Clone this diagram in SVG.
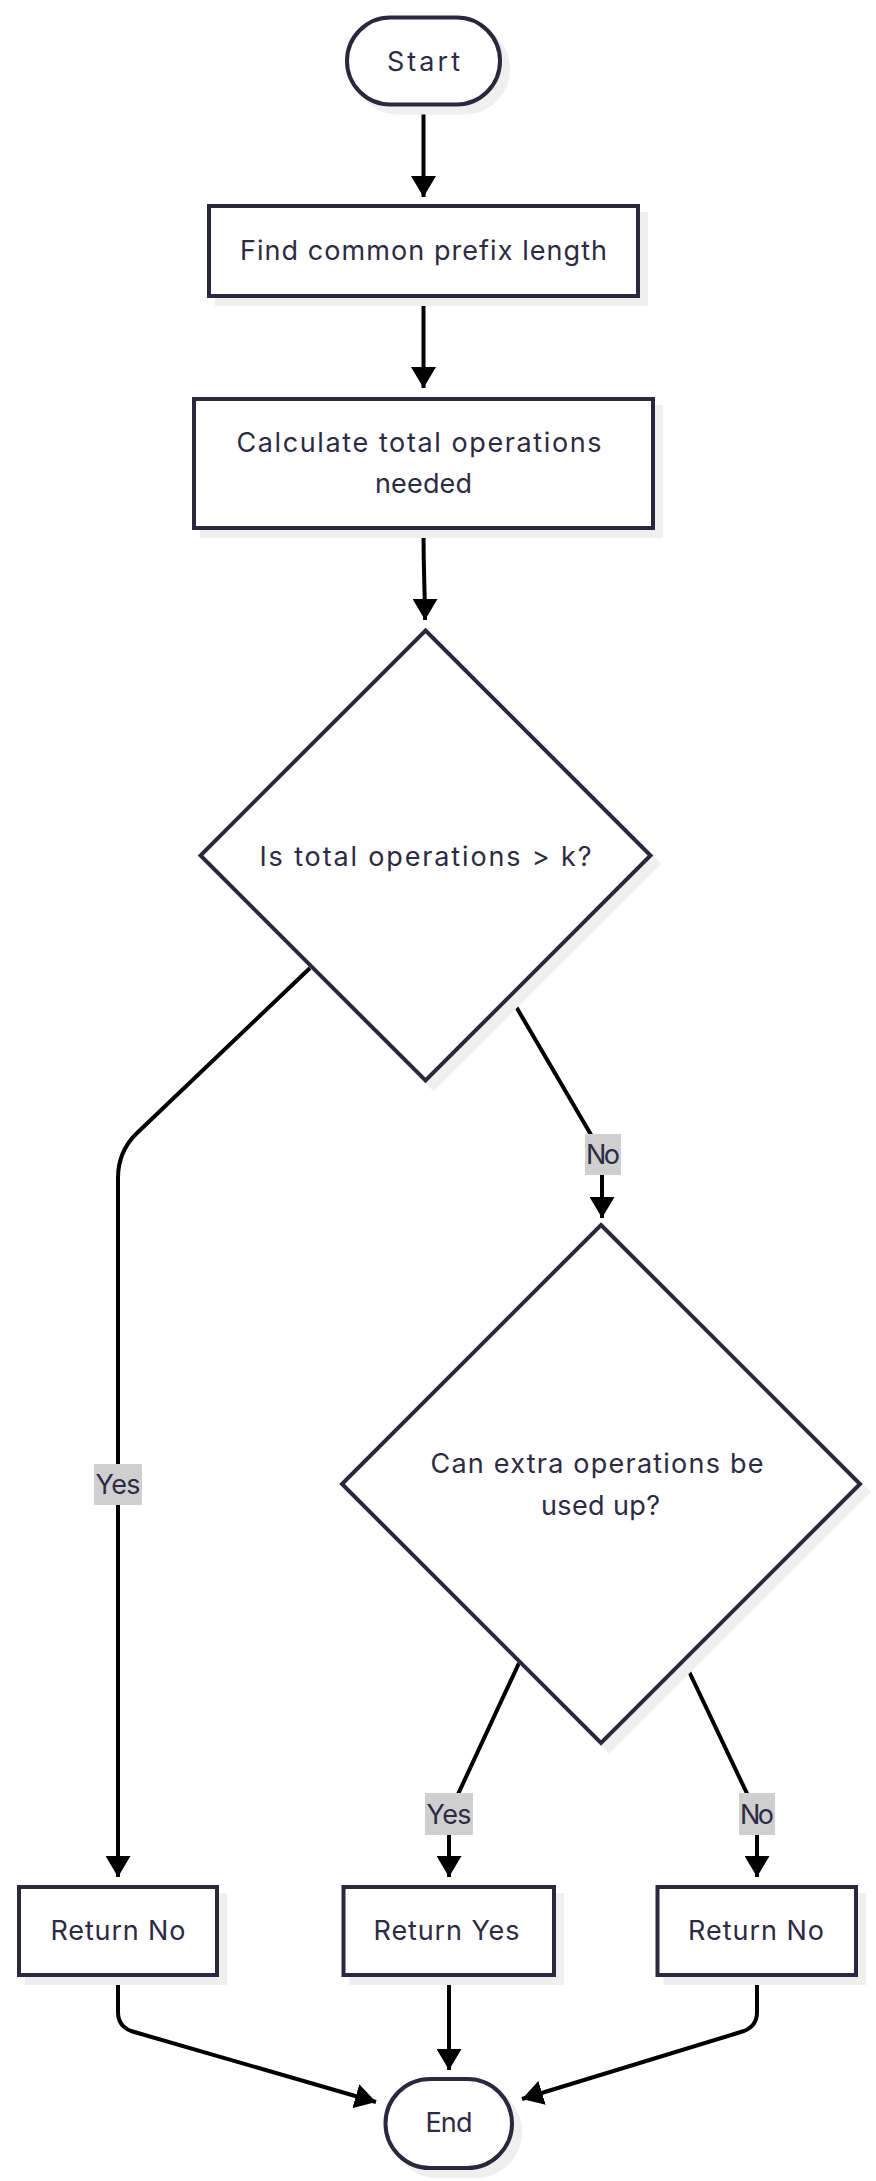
<svg xmlns="http://www.w3.org/2000/svg" width="876" height="2181" viewBox="0 0 876 2181">
<style>
.node{fill:#ffffff;stroke:#29283d;stroke-width:4}
.shadow{fill:#efefef;stroke:#efefef;stroke-width:4}
.t{font-family:Inter,"Open Sans","Liberation Sans",sans-serif;font-size:27px;font-weight:400;fill:#2d2b44;text-anchor:middle}
.edge{fill:none;stroke:#000000;stroke-width:4}
.lbl{fill:#cfcfcf}
</style>
<defs>
<marker id="arrow" markerUnits="userSpaceOnUse" markerWidth="21" markerHeight="25" viewBox="0 0 21 25" refX="21" refY="12.5" orient="auto">
<path d="M0,0 L21,12.5 L0,25 Z" fill="#000000"/>
</marker>
</defs>
<rect width="876" height="2181" fill="#ffffff"/>

<g id="edges">
<path class="edge" d="M423.5,105 L423.5,197" marker-end="url(#arrow)"/>
<path class="edge" d="M423.5,297 L423.5,388" marker-end="url(#arrow)"/>
<path class="edge" d="M423.5,530 C423.5,580 425,590 425,620" marker-end="url(#arrow)"/>
<path class="edge" d="M310,968 L136,1134 Q118,1152 118,1178 L118,1877" marker-end="url(#arrow)"/>
<path class="edge" d="M511,998 L597,1145 Q602,1154 602,1165 L602,1218" marker-end="url(#arrow)"/>
<path class="edge" d="M519,1663 L453,1805 Q449,1814 449,1824 L449,1877" marker-end="url(#arrow)"/>
<path class="edge" d="M685,1663 L752,1804 Q757,1814 757,1824 L757,1877" marker-end="url(#arrow)"/>
<path class="edge" d="M118,1977 L118,2012 Q118,2026 131,2031 L376,2102" marker-end="url(#arrow)"/>
<path class="edge" d="M449,1977 L449,2070" marker-end="url(#arrow)"/>
<path class="edge" d="M757,1977 L757,2012 Q757,2026 744,2031 L522,2099" marker-end="url(#arrow)"/>
<g id="edge-labels">
<rect class="lbl" x="585" y="1134" width="36" height="41"/>
<text class="t" x="603" y="1164" textLength="34">No</text>
<rect class="lbl" x="94" y="1464" width="48" height="41"/>
<text class="t" x="118" y="1494" textLength="45">Yes</text>
<rect class="lbl" x="425" y="1793" width="48" height="42"/>
<text class="t" x="449" y="1823.5" textLength="45">Yes</text>
<rect class="lbl" x="739" y="1793" width="36" height="42"/>
<text class="t" x="757" y="1823.5" textLength="34">No</text>
</g>
</g>

<g id="start">
<rect class="shadow" x="355" y="25.5" width="153" height="87" rx="43.5"/>
<rect class="node" x="347" y="17.5" width="153" height="87" rx="43.5"/>
<text class="t" x="423.5" y="70.5" textLength="73">Start</text>
</g>

<g id="find-prefix">
<rect class="shadow" x="217" y="214" width="429" height="90"/>
<rect class="node" x="209" y="206" width="429" height="90"/>
<text class="t" x="423.5" y="259.5" textLength="367">Find common prefix length</text>
</g>

<g id="calc-ops">
<rect class="shadow" x="202" y="407" width="459" height="129"/>
<rect class="node" x="194" y="399" width="459" height="129"/>
<text class="t" x="419" y="451.5" textLength="365">Calculate total operations</text>
<text class="t" x="423.5" y="493" textLength="97">needed</text>
</g>

<g id="decision1">
<polygon class="shadow" points="433.5,638.5 658.5,863.5 433.5,1088.5 208.5,863.5"/>
<polygon class="node" points="425.5,630.5 650.5,855.5 425.5,1080.5 200.5,855.5"/>
<text class="t" x="425.5" y="865.5" textLength="332">Is total operations &gt; k?</text>
</g>

<g id="decision2">
<polygon class="shadow" points="609,1233 868,1492 609,1751 350,1492"/>
<polygon class="node" points="601,1225 860,1484 601,1743 342,1484"/>
<text class="t" x="597" y="1473" textLength="333">Can extra operations be</text>
<text class="t" x="600.5" y="1514.5" textLength="119">used up?</text>
</g>

<g id="return-no-1">
<rect class="shadow" x="27" y="1895" width="198" height="88"/>
<rect class="node" x="19" y="1887" width="198" height="88"/>
<text class="t" x="118" y="1939.5" textLength="135">Return No</text>
</g>

<g id="return-yes">
<rect class="shadow" x="351.5" y="1895" width="210.5" height="88"/>
<rect class="node" x="343.5" y="1887" width="210.5" height="88"/>
<text class="t" x="446.5" y="1939.5" textLength="146">Return Yes</text>
</g>

<g id="return-no-2">
<rect class="shadow" x="665.5" y="1895" width="198.5" height="88"/>
<rect class="node" x="657.5" y="1887" width="198.5" height="88"/>
<text class="t" x="756" y="1939.5" textLength="136">Return No</text>
</g>

<g id="end">
<rect class="shadow" x="393.5" y="2087" width="126.5" height="89" rx="44.5"/>
<rect class="node" x="385.5" y="2079" width="126.5" height="89" rx="44.5"/>
<text class="t" x="449" y="2132" textLength="47">End</text>
</g>
</svg>
